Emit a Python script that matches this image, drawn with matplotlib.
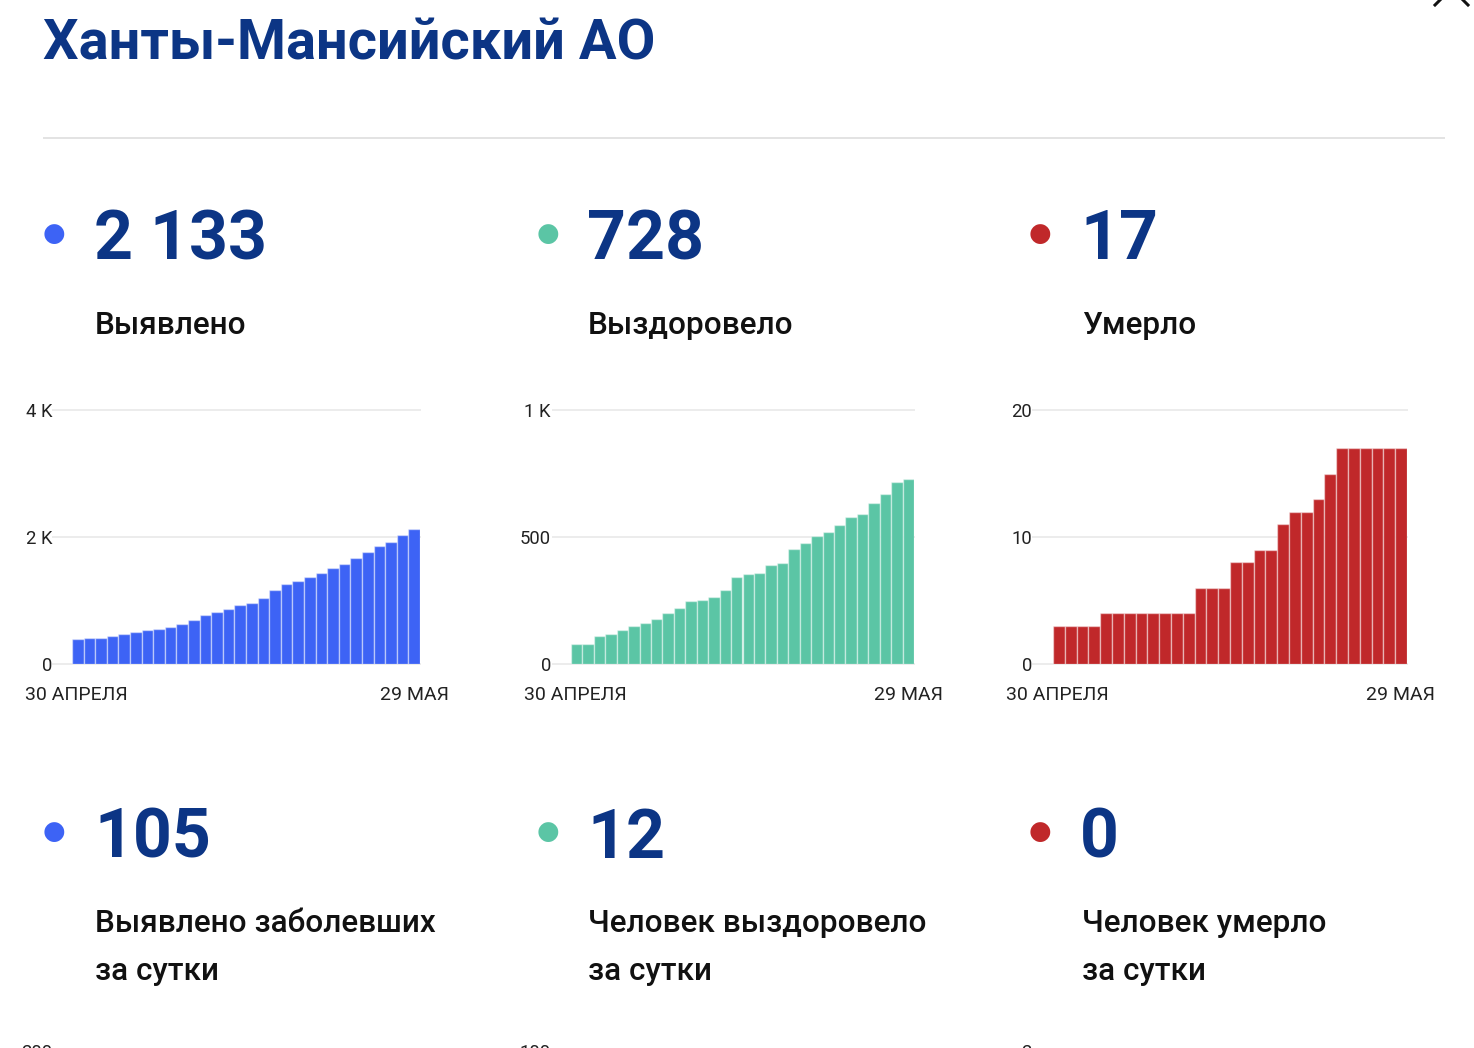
import matplotlib.pyplot as plt
import numpy as np
from matplotlib.lines import Line2D

# -------------------------
# Data (30 Apr - 29 May, cumulative)
# -------------------------

region = "Ханты-Мансийский АО"

detected = [388, 404, 415, 446, 467, 504, 535, 551, 583, 625,
            693, 772, 819, 861, 924, 966, 1045, 1165, 1255, 1307,
            1370, 1433, 1512, 1570, 1669, 1759, 1853, 1927, 2031, 2133]

recovered = [79, 79, 110, 117, 135, 150, 161, 178, 202, 219,
             248, 252, 265, 291, 341, 356, 360, 390, 396, 453,
             478, 503, 520, 546, 580, 591, 635, 669, 717, 728]

deaths = [3, 3, 3, 3, 4, 4, 4, 4, 4, 4,
          4, 4, 6, 6, 6, 8, 8, 9, 9, 11,
          12, 12, 13, 15, 17, 17, 17, 17, 17, 17]

totals = ["2 133", "728", "17"]
total_labels = ["Выявлено", "Выздоровело", "Умерло"]

daily = ["105", "12", "0"]
daily_labels = [["Выявлено заболевших", "за сутки"],
                ["Человек выздоровело", "за сутки"],
                ["Человек умерло", "за сутки"]]

y_ticks = [[0, 2000, 4000], [0, 500, 1000], [0, 10, 20]]
y_tick_labels = [["0", "2 K", "4 K"], ["0", "500", "1 K"], ["0", "10", "20"]]
next_top_ticks = ["200", "100", "2"]

date_first = "30 АПРЕЛЯ"
date_last = "29 МАЯ"

colors = ["#3d63f5", "#5bc5a5", "#c0282a"]
navy = "#0c3585"
text_col = "#111111"

# -------------------------
# Layout helpers (pixels)
# -------------------------

W, H = 1474, 1048
plt.rcParams["font.family"] = ["Roboto", "DejaVu Sans"]

fig = plt.figure(figsize=(W / 100, H / 100), dpi=100)
fig.patch.set_facecolor("white")


def fx(px):
    return px / W


def fy(py):
    return 1 - py / H


def pt(px):
    return px * 72 / 100


# title + separator
fig.text(fx(43), fy(60), region, fontsize=pt(56), fontweight="bold",
         color=navy, va="baseline", ha="left")
fig.add_artist(Line2D([fx(44), fx(1444)], [fy(138), fy(138)],
                      color="#e3e3e3", linewidth=pt(2)))

# close icon (partly off-canvas)
fig.add_artist(Line2D([fx(1435), fx(1444)], [fy(5), fy(-4)],
                      color="#111111", linewidth=pt(3)))
fig.add_artist(Line2D([fx(1468), fx(1459)], [fy(5), fy(-4)],
                      color="#111111", linewidth=pt(3)))

dot_x = [54, 548, 1040]
num_x = [94, 587, 1080]
lab_x = [95, 588, 1082]

# chart geometry: grid start, bar start, bar end, tick right edge, date left, date right
charts = [
    (53, 72, 420, 52, 25, 449),
    (553, 571, 914, 551, 524, 943),
    (1033, 1053, 1407, 1032, 1006, 1435),
]
series = [detected, recovered, deaths]

for i in range(3):
    # top row stats
    fig.text(fx(dot_x[i]), fy(234), "\u25cf", fontsize=pt(26), color=colors[i],
             ha="center", va="center", family="DejaVu Sans")
    fig.text(fx(num_x[i]), fy(259), totals[i], fontsize=pt(68),
             fontweight="bold", color=navy, va="baseline")
    fig.text(fx(lab_x[i]), fy(334), total_labels[i], fontsize=pt(31.5),
             fontweight=500, color=text_col, va="baseline")

    # bar chart
    g0, b0, b1, tick_r, d_l, d_r = charts[i]
    top, bottom = 410, 664
    ax = fig.add_axes([fx(g0), fy(bottom), fx(b1 - g0), (bottom - top) / H])
    vals = np.array(series[i])
    n = len(vals)
    bw = (b1 - b0) / n
    ax.bar(np.arange(n), vals, width=1, align="edge", color=colors[i],
           edgecolor=(1, 1, 1, 0.45), linewidth=1, zorder=2)
    ax.set_xlim(-(b0 - g0) / bw, n)
    ax.set_ylim(0, y_ticks[i][-1])
    for t in y_ticks[i]:
        ax.axhline(t, color="#ececec", linewidth=pt(2), zorder=0, clip_on=False)
    for s in ax.spines.values():
        s.set_visible(False)
    ax.set_xticks([])
    ax.set_yticks(y_ticks[i])
    ax.set_yticklabels(y_tick_labels[i], fontsize=pt(18.5), color="#222222")
    ax.tick_params(axis="y", length=0, pad=pt(g0 - tick_r))

    fig.text(fx(d_l), fy(700), date_first, fontsize=pt(19.5), color="#222222",
             va="baseline", ha="left")
    fig.text(fx(d_r), fy(700), date_last, fontsize=pt(19.5), color="#222222",
             va="baseline", ha="right")

    # bottom row stats
    fig.text(fx(dot_x[i]), fy(832), "\u25cf", fontsize=pt(26), color=colors[i],
             ha="center", va="center", family="DejaVu Sans")
    fig.text(fx(num_x[i]), fy(858), daily[i], fontsize=pt(68),
             fontweight="bold", color=navy, va="baseline")
    fig.text(fx(lab_x[i]), fy(932), daily_labels[i][0], fontsize=pt(31.5),
             fontweight=500, color=text_col, va="baseline")
    fig.text(fx(lab_x[i]), fy(980), daily_labels[i][1], fontsize=pt(31.5),
             fontweight=500, color=text_col, va="baseline")

    # top tick of the next (cut off) chart row
    fig.text(fx(tick_r), fy(1044), next_top_ticks[i], fontsize=pt(18.5),
             color="#222222", ha="right", va="top")

fig.savefig("out.png", dpi=100, facecolor="white")
plt.close(fig)
print("Saved: out.png")
